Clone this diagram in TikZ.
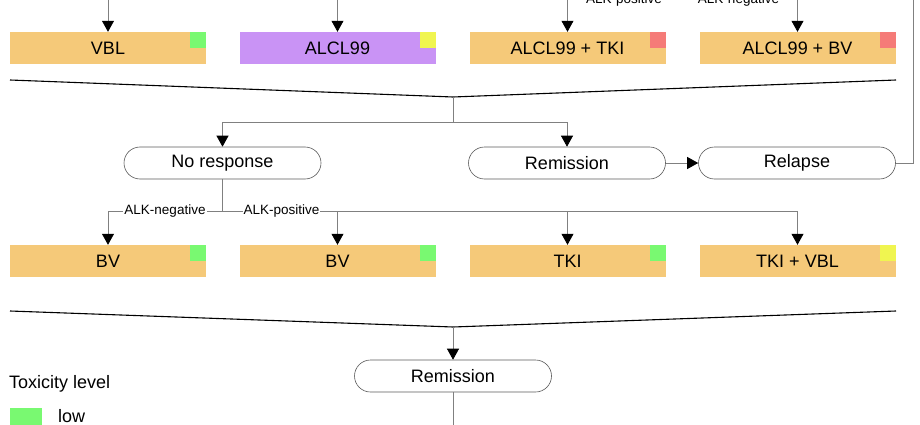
\documentclass[tikz,border=0pt]{standalone}
\usepackage{fontspec}
\setmainfont{Liberation Sans}
\usetikzlibrary{arrows.meta}
\definecolor{boxorange}{HTML}{F5C979}
\definecolor{boxpurple}{HTML}{C993F5}
\definecolor{toxlow}{HTML}{79F971}
\definecolor{toxmid}{HTML}{F0F550}
\definecolor{toxhigh}{HTML}{F57B78}
\definecolor{linegray}{HTML}{808080}
\definecolor{bordergray}{HTML}{5A5A5A}
\begin{document}
\begin{tikzpicture}[x=1pt,y=-1pt,
  txbox/.style={rectangle, fill=boxorange, minimum width=196pt, minimum height=32pt, inner sep=0pt, font=\fontsize{18}{20}\selectfont},
  statebox/.style={rectangle, rounded corners=16pt, draw=bordergray, line width=0.6pt, fill=white, minimum width=197pt, minimum height=32pt, inner sep=0pt, font=\fontsize{18}{20}\selectfont},
  toxsq/.style={rectangle, minimum size=16pt, inner sep=0pt, anchor=north east},
  conn/.style={draw=linegray, line width=0.8pt},
  arr/.style={conn, -{Triangle[width=12pt,length=11pt,fill=black,color=black]}},
  funnel/.style={draw=black, line width=1.1pt, line join=miter},
  alklabel/.style={fill=white, inner sep=1pt, font=\fontsize{13.5}{15}\selectfont},
]
\useasboundingbox (0,0) rectangle (920,425);

% top row of treatments
\node[txbox] (vbl) at (108,48) {VBL};
\node[txbox, fill=boxpurple] (alcl) at (337.5,48) {ALCL99};
\node[txbox] (alcltki) at (567.5,48) {ALCL99 + TKI};
\node[txbox] (alclbv) at (797.5,48) {ALCL99 + BV};
\node[toxsq, fill=toxlow] (t1) at (vbl.north east) {};
\node[toxsq, fill=toxmid] (t2) at (alcl.north east) {};
\node[toxsq, fill=toxhigh] (t3) at (alcltki.north east) {};
\node[toxsq, fill=toxhigh] (t4) at (alclbv.north east) {};

% incoming arrows from above (cut by the page edge)
\coordinate (in1) at (108,-10);
\coordinate (in2) at (337.5,-10);
\coordinate (in3) at (567.5,-2);
\coordinate (in4) at (797.5,-2);
\coordinate (topr) at (913,-2);
\draw[arr] (in1) -- (vbl.north);
\draw[arr] (in2) -- (alcl.north);
\draw[arr] (in3) -- (alcltki.north);
\draw[arr] (in4) -- (alclbv.north);
\draw[conn] (in3) -- (in4);
\node[alklabel, anchor=base] (lp1) at (624,4) {ALK-positive};
\node[alklabel, anchor=base] (ln1) at (738.5,4) {ALK-negative};

% first funnel
\coordinate (f1l) at (10,80);
\coordinate (f1v) at (453,97);
\coordinate (f1r) at (896,80);
\draw[funnel] (f1l) -- (f1v) -- (f1r);
\coordinate (f1j) at (453,122);

% middle row states
\node[statebox] (nores) at (222.5,163) {No response};
\node[statebox] (remi) at (567,163) {Remission};
\node[statebox] (rela) at (797,163) {Relapse};

\draw[conn] (f1v) -- (f1j);
\draw[arr] (f1j) -| (nores.north);
\draw[arr] (f1j) -| (remi.north);
\draw[arr] (remi.east) -- (rela.west);
\coordinate (relr) at (913,163);
\draw[conn] (rela.east) -- (relr) -- (topr);

% third row of treatments
\node[txbox] (bv1) at (108,261) {BV};
\node[txbox] (bv2) at (337.5,261) {BV};
\node[txbox] (tki) at (567.5,261) {TKI};
\node[txbox] (tkivbl) at (797.5,261) {TKI + VBL};
\node[toxsq, fill=toxlow] (t5) at (bv1.north east) {};
\node[toxsq, fill=toxlow] (t6) at (bv2.north east) {};
\node[toxsq, fill=toxlow] (t7) at (tki.north east) {};
\node[toxsq, fill=toxmid] (t8) at (tkivbl.north east) {};

\coordinate (nrj) at (222.5,211.5);
\draw[conn] (nores.south) -- (nrj);
\draw[arr] (nrj) -| (bv1.north);
\draw[arr] (nrj) -| (bv2.north);
\draw[arr] (nrj) -| (tki.north);
\draw[arr] (nrj) -| (tkivbl.north);
\node[alklabel] (ln2) at (165,211.5) {ALK-negative};
\node[alklabel] (lp2) at (281.5,211.5) {ALK-positive};

% second funnel
\coordinate (f2l) at (10,311);
\coordinate (f2v) at (453,327);
\coordinate (f2r) at (896,311);
\draw[funnel] (f2l) -- (f2v) -- (f2r);

\node[statebox] (remi2) at (453,376) {Remission};
\draw[arr] (f2v) -- (remi2.north);
\coordinate (outb) at (453,430);
\draw[conn] (remi2.south) -- (outb);

% legend
\node[anchor=west, inner sep=0pt, font=\fontsize{18}{20}\selectfont] (legt) at (9,384) {Toxicity level};
\node[rectangle, fill=toxlow, minimum width=32pt, minimum height=17pt, inner sep=0pt, anchor=north west] (leglow) at (10,408) {};
\node[anchor=west, inner sep=0pt, font=\fontsize{18}{20}\selectfont] (legl) at (58,416) {low};
\end{tikzpicture}
\end{document}
